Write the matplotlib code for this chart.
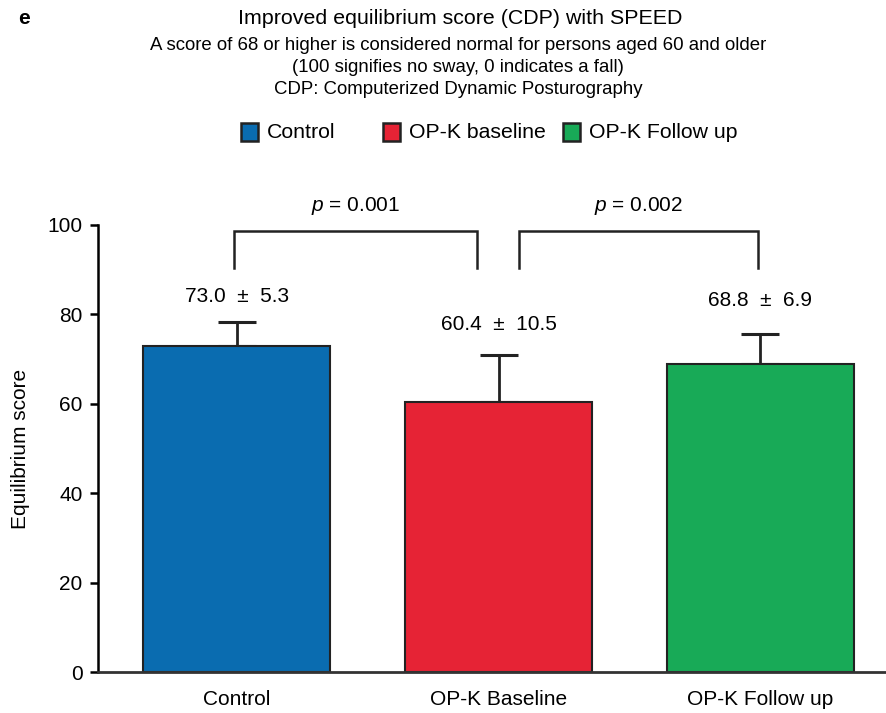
import matplotlib
matplotlib.use("Agg")
import matplotlib.pyplot as plt
from matplotlib.patches import Rectangle

plt.rcParams['font.family'] = ['Liberation Sans', 'DejaVu Sans']
plt.rcParams['mathtext.fontset'] = 'custom'
plt.rcParams['mathtext.rm'] = 'Liberation Sans'
plt.rcParams['mathtext.it'] = 'Liberation Sans:italic'

# Data
groups = ["Control", "OP-K Baseline", "OP-K Follow up"]
legend_labels = ["Control", "OP-K baseline", "OP-K Follow up"]
means = [73.0, 60.4, 68.8]
sds = [5.3, 10.5, 6.9]
p_labels = ["0.001", "0.002"]
colors = ["#0A6CB0", "#E62335", "#18AA57"]
edge = "#222222"

fig = plt.figure(figsize=(8.87, 7.13), dpi=100)
ax = fig.add_axes([98 / 887, 1 - 672 / 713, 1 - 98 / 887, (672 - 225) / 713])

x = list(range(len(groups)))
ax.bar(x, means, width=0.714, color=colors, edgecolor=edge, linewidth=1.5, zorder=2)
ax.errorbar(x, means, yerr=[[0] * len(sds), sds], fmt="none", ecolor="#222222",
            elinewidth=2, capsize=14, capthick=2.2, zorder=1)

# Value labels
label_y = [83.9, 77.7, 83.0]
for xi, m, s, ly in zip(x, means, sds, label_y):
    ax.text(xi, ly, f"{m:.1f}  \u00b1  {s}", ha="center", va="center", fontsize=15)

# Significance brackets
top = 98.7
leg = 90.4
brackets = [(-0.01, 0.917), (1.08, 1.99)]
for (x0, x1), p in zip(brackets, p_labels):
    ax.plot([x0, x0, x1, x1], [leg, top, top, leg], color="#222222", lw=1.8,
            clip_on=False, solid_joinstyle="miter")
    ax.text((x0 + x1) / 2, 104.3, f"$p$ = {p}", ha="center", va="center",
            fontsize=15, clip_on=False)

ax.set_xlim(-0.529, 2.483)
ax.set_ylim(0, 100)
ax.set_yticks([0, 20, 40, 60, 80, 100])
ax.set_xticks(x)
ax.set_xticklabels(groups, fontsize=15)
ax.tick_params(axis="x", length=0, pad=13)
ax.tick_params(axis="y", length=6, width=1.8, labelsize=15, pad=5, direction="out")
for s in ["top", "right"]:
    ax.spines[s].set_visible(False)
ax.spines["left"].set_linewidth(1.8)
ax.spines["bottom"].set_linewidth(2)
ax.spines["bottom"].set_color("#333333")
ax.set_ylabel("Equilibrium score", fontsize=15)
ax.yaxis.set_label_coords(-68 / 789, 0.5)

# Titles
fig.text(18 / 887, 1 - 18 / 713, "e", fontsize=15, fontweight="bold", ha="left", va="center")
fig.text(460 / 887, 1 - 18 / 713, "Improved equilibrium score (CDP) with SPEED",
         fontsize=15.4, ha="center", va="center")
subtitle = ["A score of 68 or higher is considered normal for persons aged 60 and older",
            "(100 signifies no sway, 0 indicates a fall)",
            "CDP: Computerized Dynamic Posturography"]
for i, line in enumerate(subtitle):
    fig.text(458 / 887, 1 - (46 + 21.5 * i) / 713, line, fontsize=13.4,
             ha="center", va="center")

# Legend
leg_x = [241, 383, 563]
leg_y = 132
for lx, c, lab in zip(leg_x, colors, legend_labels):
    fig.patches.append(Rectangle((lx / 887, 1 - (leg_y + 9) / 713), 17 / 887, 18 / 713,
                                 transform=fig.transFigure, facecolor=c,
                                 edgecolor=edge, linewidth=1.8))
    fig.text((lx + 26) / 887, 1 - leg_y / 713, lab, fontsize=15.3, ha="left", va="center")

fig.savefig("out.png", dpi=100)
